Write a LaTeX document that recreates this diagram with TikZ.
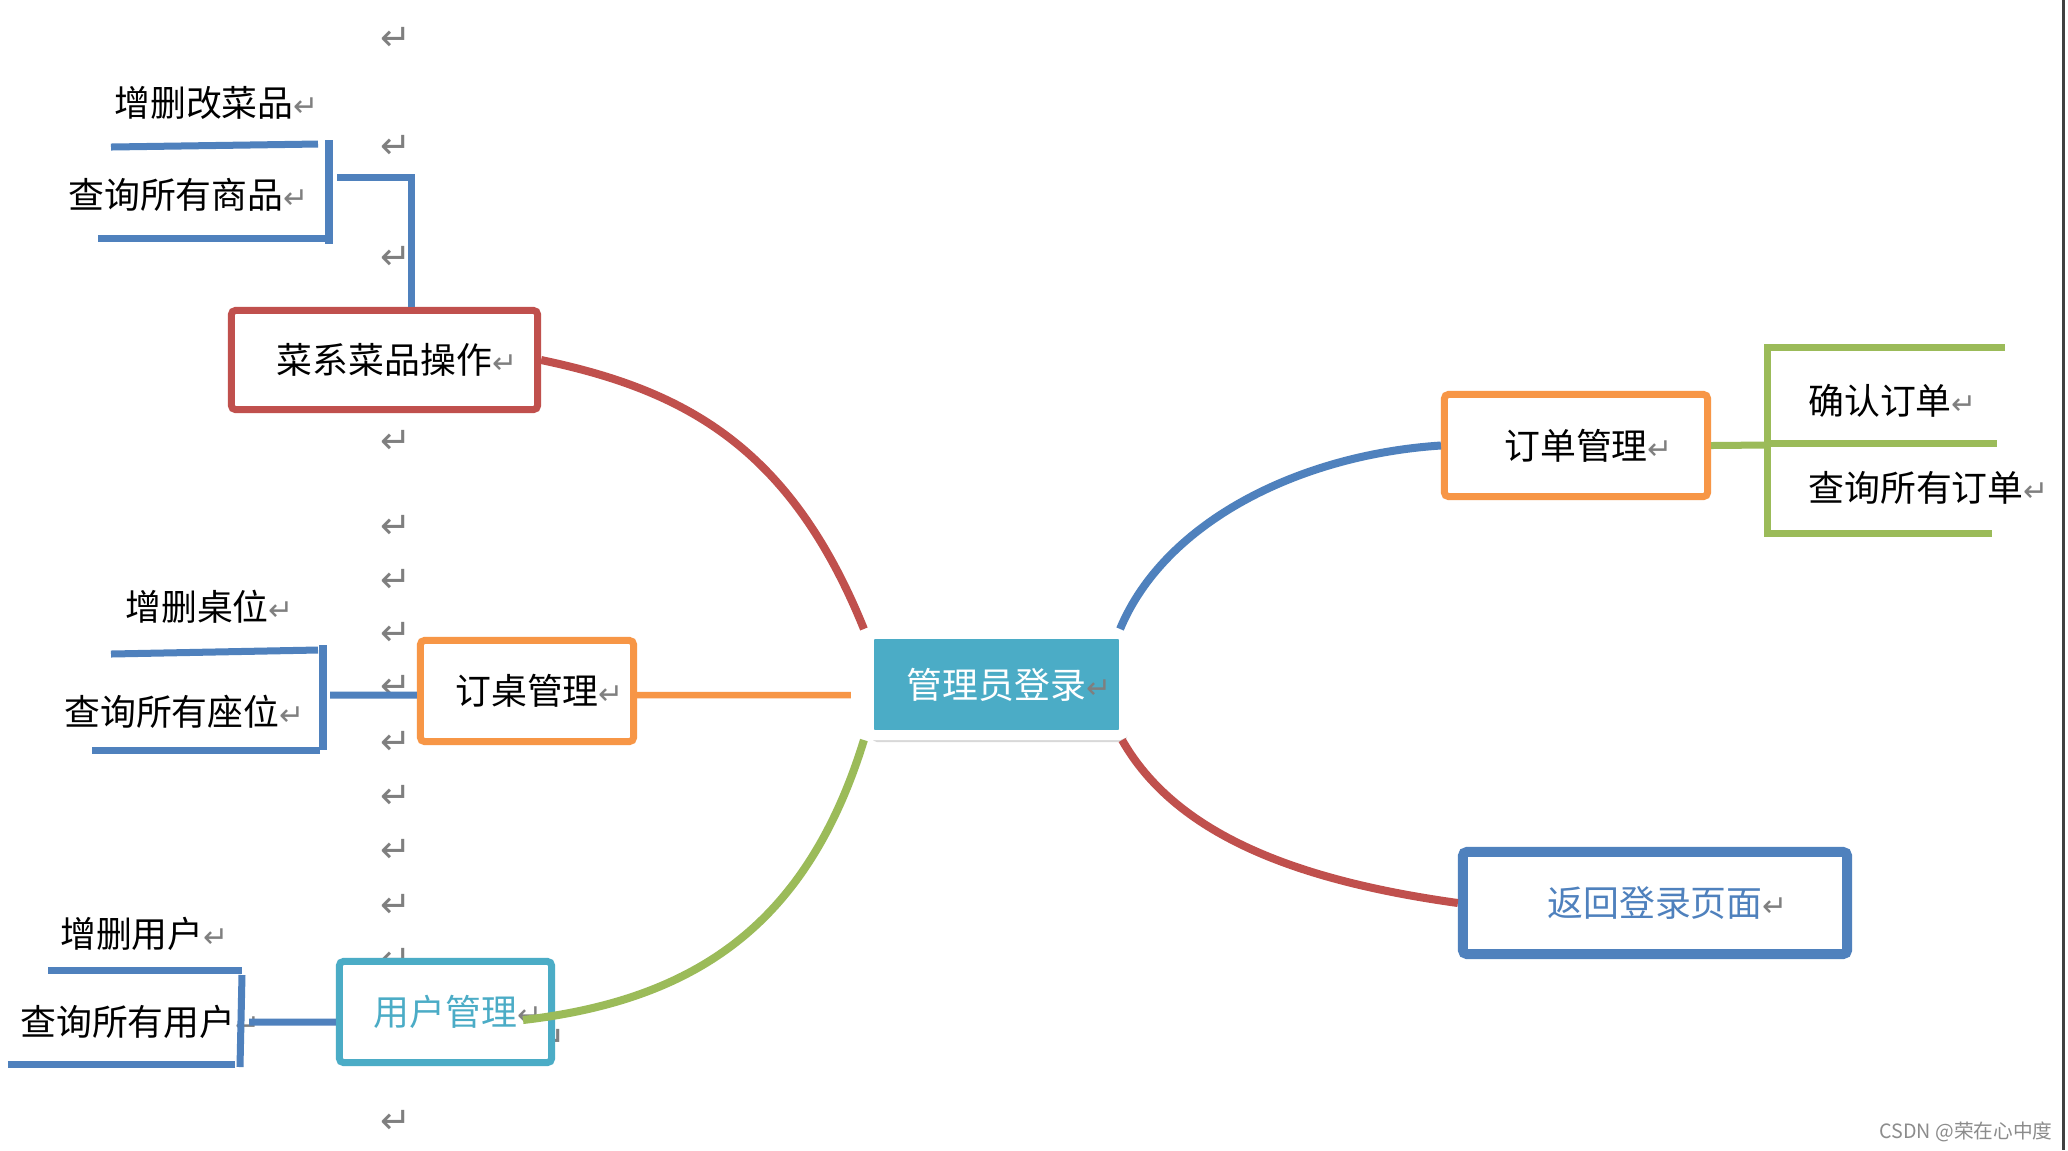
\documentclass[tikz,border=0pt]{standalone}
\usepackage{fontspec}
\setmainfont{Noto Sans CJK SC}
\newfontfamily\symfont{DejaVu Sans}
\usetikzlibrary{calc,shadows}
\definecolor{cred}{HTML}{C0504D}
\definecolor{cblue}{HTML}{4F81BD}
\definecolor{cgreen}{HTML}{9BBB59}
\definecolor{corange}{HTML}{F79646}
\definecolor{cteal}{HTML}{4BACC6}
\definecolor{retgray}{HTML}{7F7F7F}
\newcommand{\retmark}{\rlap{\color{retgray}\symfont\fontsize{8.5}{9}\selectfont ↵}}
\begin{document}
\begin{tikzpicture}[x=0.01cm, y=-0.01cm,
    topic/.style={draw, line width=0.07cm, fill=white, rounded corners=0.04cm, inner sep=0pt, font=\fontsize{10.2}{12}\selectfont},
    leaf/.style={inner sep=0pt, font=\fontsize{10.2}{12}\selectfont},
    retnode/.style={inner sep=0pt, text=retgray, font=\symfont\fontsize{10.5}{11}\selectfont},
    branch/.style={line width=0.08cm},
    bracket/.style={line width=0.07cm, draw=cblue}
]
\useasboundingbox (0,0) rectangle (2068,1150);
\fill[white] (0,0) rectangle (2068,1150);

\foreach \y in {39,147,258,442,527,581,634,687,743,797,851,906,960,1122}
    \node[retnode] (ret\y) at (396,\y) {↵};
\node[retnode] (retuser) at (551,1041) {↵};

\node[draw=white, fill=cteal, line width=0.1cm, rounded corners=0.05cm, minimum width=2.55cm, minimum height=1.01cm, inner sep=0pt, text=white, font=\fontsize{10.2}{12}\selectfont, drop shadow={shadow xshift=0.03cm, shadow yshift=-0.07cm, opacity=0.25, fill=black!60}] (login) at (996.5,684.5) {管理员登录\retmark};

\node[topic, draw=cred, minimum width=3.06cm, minimum height=0.99cm] (dish) at (384.5,360) {菜系菜品操作\retmark};
\node[topic, draw=corange, minimum width=2.13cm, minimum height=1.01cm] (desk) at (527,691) {订桌管理\retmark};
\node[topic, draw=cteal, text=cteal, minimum width=2.12cm, minimum height=1.01cm] (user) at (445.5,1012) {用户管理\retmark};
\node[topic, draw=corange, minimum width=2.63cm, minimum height=1.02cm] (order) at (1576,445.5) {订单管理\retmark};
\node[topic, draw=cblue, text=cblue, line width=0.1cm, minimum width=3.84cm, minimum height=1.02cm] (back) at (1655,903) {返回登录页面\retmark};

\node[leaf] (dishadd) at (204,103) {增删改菜品\retmark};
\node[leaf] (dishquery) at (176,195) {查询所有商品\retmark};
\node[leaf] (deskadd) at (197,607) {增删桌位\retmark};
\node[leaf] (deskquery) at (172,712) {查询所有座位\retmark};
\node[leaf] (useradd) at (132,934) {增删用户\retmark};
\node[leaf] (userquery) at (128,1022) {查询所有用户\retmark};
\node[leaf] (orderok) at (1880,401) {确认订单\retmark};
\node[leaf] (orderquery) at (1916,488) {查询所有订单\retmark};

\draw[branch, cred] (login.north west) .. controls +(-74,-183) and +(143,30) .. (dish.east);
\draw[branch, cblue] ([xshift=-0.09cm]login.north east) .. controls +(45,-108) and +(-140,9) .. (order.west);
\draw[branch, cred] ([xshift=-0.07cm]login.south east) .. controls +(53,93) and +(-165,-23) .. (back.west);
\draw[branch, cgreen] (login.south west) .. controls +(-57,185) and +(172,-20) .. ([xshift=-0.32cm,yshift=-0.08cm]user.east);
\draw[branch, corange, line width=0.065cm] ([yshift=-0.04cm]desk.east) -- ($(login.west |- desk.east)+(-13,4)$);

\coordinate (dishbr) at (337,177);
\draw[bracket] ([xshift=0.27cm]dish.north) |- (dishbr);
\draw[bracket] (111,147) -- (318,144);
\draw[bracket] (98,238) -- (325,238);
\draw[bracket] (329,140) -- (329,244);

\coordinate (deskbr) at (330,695);
\draw[bracket] ([yshift=-0.04cm]desk.west) -- (deskbr);
\draw[bracket] (111,654) -- (318,650);
\draw[bracket] (92,750) -- (320,750);
\draw[bracket] (323,645) -- (323,750);

\coordinate (userbr) at (249,1022);
\draw[bracket] ([yshift=-0.1cm]user.west) -- (userbr);
\draw[bracket] (48,970) -- (242,970);
\draw[bracket] (8,1064) -- (235,1064);
\draw[bracket] (242,975) -- (240,1067);

\coordinate (orderbr) at (1767,445);
\draw[bracket, cgreen] (order.east) -- (orderbr);
\draw[bracket, cgreen] (1767,344) -- (1767,536);
\draw[bracket, cgreen] (1764,347) -- (2005,347);
\draw[bracket, cgreen] (1767,443) -- (1997,443);
\draw[bracket, cgreen] (1764,533) -- (1992,533);

\node[inner sep=0pt, text=black!45, font=\fontsize{5.6}{6}\selectfont] (mark) at (1966,1132) {CSDN @荣在心中度};
\draw[line width=0.03cm, black!75] (2063,0) -- (2063,1150);
\end{tikzpicture}
\end{document}
